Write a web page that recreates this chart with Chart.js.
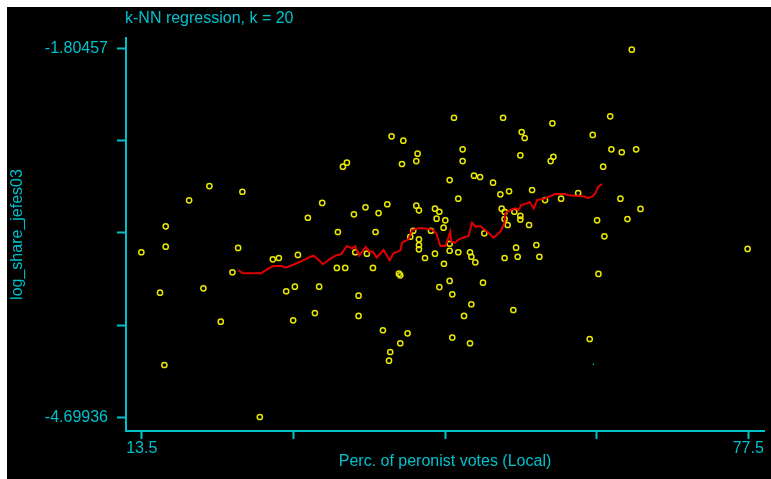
<!DOCTYPE html>
<html lang="en">
<head>
  <meta charset="UTF-8">
  <title>k-NN regression</title>
  <script src="https://cdn.jsdelivr.net/npm/chart.js@4"></script>
  <style>
    body {
      margin: 0;
      background: #fff;
    }

    #wrap {
      width: 771px;
      height: 479px;
    }
  </style>
</head>
<body>
  <div id="wrap">
    <canvas id="knn" width="771" height="479"></canvas>
  </div>
  <script>
    // scatter: % peronist votes (local) vs log_share_jefes03
    const votesLocal = [
      13.46, 15.43, 15.89, 16.03, 16.03, 18.50, 20.01, 20.64, 21.84, 23.07,
      23.67, 24.12, 25.96, 27.33, 27.97, 28.74, 29.48, 29.66, 29.98, 31.03,
      31.77, 32.22, 32.54, 34.09, 34.20, 34.73, 34.97, 35.15, 35.89, 36.03,
      36.38, 36.38, 37.11, 37.26, 37.90, 38.17, 38.49, 38.95, 39.41, 39.59,
      39.72, 39.86, 40.64, 40.78, 40.78, 40.96, 41.10, 41.55, 41.84, 42.15,
      42.47, 42.47, 42.61, 42.75, 42.75, 42.75, 42.75, 43.39, 44.02, 44.44,
      44.44, 44.61, 44.90, 44.90, 45.35, 45.39, 45.53, 45.99, 45.99, 45.99,
      45.99, 46.27, 46.27, 46.45, 46.90, 46.90, 47.36, 47.36, 47.51, 48.14,
      48.14, 48.28, 48.28, 48.56, 48.70, 49.20, 49.51, 49.65, 50.57, 51.34,
      51.48, 51.63, 51.79, 51.79, 51.79, 52.11, 52.26, 52.71, 52.82, 53.00,
      53.17, 53.45, 53.45, 53.45, 53.59, 53.91, 54.37, 54.69, 55.14, 55.46,
      56.06, 56.65, 56.83, 56.94, 57.75, 59.55, 60.77, 61.09, 61.55, 61.69,
      62.19, 62.32, 62.93, 63.06, 64.01, 64.15, 64.75, 65.21, 65.67, 66.13,
      77.43
    ];
    const logShare = [
      -3.404, -3.721, -4.289, -3.200, -3.360, -2.996, -3.687, -2.884, -3.949, -3.561,
      -3.370, -2.929, -4.697, -3.459, -3.449, -3.710, -3.938, -3.674, -3.425, -3.133,
      -3.881, -3.674, -3.017, -3.527, -3.245, -2.732, -3.527, -2.701, -3.106, -3.404,
      -3.745, -3.904, -3.051, -3.415, -3.527, -3.245, -3.096, -4.016, -3.027, -4.255,
      -4.187, -2.494, -3.572, -3.585, -4.118, -2.711, -2.528, -4.040, -3.282, -3.235,
      -3.038, -2.688, -2.630, -3.075, -3.302, -3.347, -3.381, -3.449, -3.235, -3.062,
      -3.415, -3.140, -3.086, -3.677, -3.211, -3.494, -3.153, -2.837, -3.337, -3.392,
      -3.629, -3.734, -4.074, -2.348, -2.983, -3.404, -2.596, -2.688, -3.904, -3.404,
      -4.118, -3.439, -3.812, -2.803, -3.483, -2.813, -3.643, -3.255, -2.858, -2.949,
      -3.062, -2.348, -3.086, -3.143, -3.449, -3.190, -2.925, -3.857, -3.086, -3.368,
      -3.439, -2.643, -3.119, -3.147, -2.460, -2.507, -3.190, -2.915, -3.347, -3.439,
      -2.994, -2.688, -2.392, -2.654, -2.983, -2.939, -4.085, -2.483, -3.153, -3.574,
      -2.732, -3.279, -2.337, -2.596, -2.983, -2.619, -3.143, -1.814, -2.596, -3.064,
      -3.378
    ];

    // k-NN fit (k = 20)
    const fitVotes = [
      23.70, 24.20, 26.10, 26.63, 27.37, 28.26, 28.69, 29.48, 30.53, 31.17,
      31.64, 32.09, 32.62, 33.31, 33.97, 34.55, 35.15, 35.68, 36.03, 36.45,
      37.14, 37.54, 37.90, 38.30, 39.02, 39.65, 40.07, 40.81, 40.96, 41.66,
      42.01, 42.89, 44.13, 44.58, 45.00, 45.53, 45.71, 46.06, 46.17, 46.59,
      46.94, 47.99, 48.35, 48.73, 49.23, 49.94, 50.63, 51.34, 51.76, 51.87,
      52.40, 52.92, 53.27, 53.53, 54.16, 54.43, 54.86, 55.22, 56.09, 57.15,
      58.21, 58.55, 59.61, 60.32, 60.53, 61.02, 61.37, 61.66, 62.08
    ];
    const fitShare = [
      -3.546, -3.569, -3.569, -3.543, -3.512, -3.512, -3.525, -3.502, -3.467, -3.443,
      -3.431, -3.459, -3.498, -3.459, -3.429, -3.419, -3.355, -3.373, -3.357, -3.429,
      -3.361, -3.399, -3.399, -3.445, -3.386, -3.466, -3.412, -3.389, -3.329, -3.302,
      -3.229, -3.213, -3.224, -3.255, -3.355, -3.355, -3.321, -3.242, -3.321, -3.329,
      -3.302, -3.274, -3.172, -3.203, -3.198, -3.242, -3.290, -3.242, -3.177, -3.098,
      -3.072, -3.059, -3.072, -3.033, -3.020, -3.009, -3.059, -2.994, -2.980, -2.947,
      -2.947, -2.957, -2.962, -2.968, -2.980, -2.968, -2.941, -2.889, -2.868
    ];

    // tiny stray cyan mark
    const strayVotes = [61.16];
    const strayShare = [-4.283];

    const xTicks = [13.5, 29.5, 45.5, 61.5, 77.5];
    const xTickLabels = ['13.5', '', '', '', '77.5'];
    const yTicks = [-4.69936, -3.97566, -3.25196, -2.52827, -1.80457];
    const yTickLabels = ['-4.69936', '', '', '', '-1.80457'];

    const CYAN = '#00c0cc';
    const FONT = { family: '"Liberation Sans", Arial, sans-serif', size: 16 };

    const toPts = (xs, ys) => xs.map((x, i) => ({ x: x, y: ys[i] }));

    const blackBg = {
      id: 'blackBg',
      beforeDraw(chart) {
        const ctx = chart.ctx;
        ctx.save();
        ctx.fillStyle = '#000';
        ctx.fillRect(7, 7, chart.width - 7, chart.height - 7);
        ctx.restore();
      },
      afterDraw(chart) {
        const ctx = chart.ctx;
        ctx.save();
        ctx.fillStyle = CYAN;
        ctx.font = '16px ' + FONT.family;
        ctx.textBaseline = 'alphabetic';
        ctx.fillText('k-NN regression, k = 20', chart.chartArea.left - 1, 23);
        ctx.restore();
      }
    };

    const axisCommon = {
      grid: {
        display: true,
        drawOnChartArea: false,
        drawTicks: true,
        tickLength: 9,
        tickWidth: 2,
        tickColor: CYAN,
        color: CYAN
      },
      border: { display: true, color: CYAN, width: 2 }
    };

    new Chart(document.getElementById('knn'), {
      type: 'scatter',
      data: {
        datasets: [
          {
            label: 'k-NN fit',
            type: 'line',
            data: toPts(fitVotes, fitShare),
            showLine: true,
            borderColor: '#e00000',
            borderWidth: 2,
            pointRadius: 0,
            tension: 0,
            fill: false
          },
          {
            label: 'observations',
            data: toPts(votesLocal, logShare),
            pointRadius: 2.6,
            pointBorderWidth: 1.5,
            pointBorderColor: '#e8e800',
            pointBackgroundColor: 'rgba(0,0,0,0)'
          },
          {
            label: 'stray',
            data: toPts(strayVotes, strayShare),
            pointRadius: 0.8,
            pointBorderWidth: 0,
            pointBackgroundColor: CYAN
          }
        ]
      },
      options: {
        responsive: false,
        animation: false,
        layout: { padding: { top: 38, right: 7, left: 0, bottom: 0 } },
        plugins: {
          legend: { display: false },
          tooltip: { enabled: false }
        },
        scales: {
          x: {
            ...axisCommon,
            type: 'linear',
            min: 11.84,
            max: 79.16,
            grid: { ...axisCommon.grid, tickLength: 8 },
            afterBuildTicks: (s) => { s.ticks = xTicks.map(v => ({ value: v })); },
            afterFit: (s) => { s.height = 48; },
            ticks: {
              autoSkip: false,
              maxRotation: 0,
              color: CYAN,
              font: FONT,
              padding: 0,
              callback: (v, i) => xTickLabels[i]
            },
            title: {
              display: true,
              text: 'Perc. of peronist votes (Local)',
              color: CYAN,
              font: FONT,
              padding: { top: 0, bottom: 8 }
            }
          },
          y: {
            ...axisCommon,
            type: 'linear',
            min: -4.807,
            max: -1.722,
            afterBuildTicks: (s) => { s.ticks = yTicks.map(v => ({ value: v })); },
            afterFit: (s) => { s.width = 126; },
            ticks: {
              autoSkip: false,
              color: CYAN,
              font: FONT,
              padding: 9,
              callback: (v, i) => yTickLabels[i]
            },
            title: {
              display: true,
              text: 'log_share_jefes03',
              color: CYAN,
              font: FONT,
              padding: { top: 8, bottom: 0 }
            }
          }
        }
      },
      plugins: [blackBg]
    });
  </script>
</body>
</html>
